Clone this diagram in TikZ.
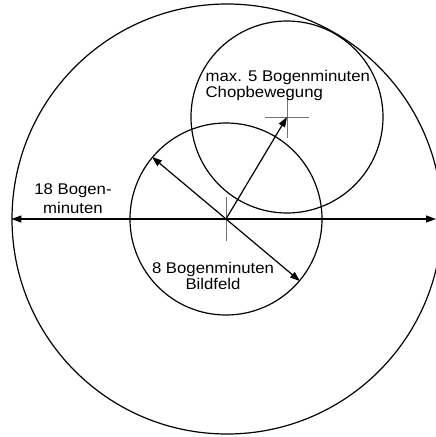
\documentclass[tikz,border=0pt]{standalone}
\usepackage{fontspec}
\setmainfont{Liberation Sans}
\usetikzlibrary{arrows.meta, positioning}

\begin{document}
\begin{tikzpicture}[x=1pt, y=-1pt, line width=1.2pt,
        >={Triangle[length=10pt, width=7pt]},
        ring/.style={circle, draw, inner sep=0pt, minimum size=#1},
        cross/.style={draw=black!55, line width=1pt},
        lbl/.style={inner sep=0pt, xscale=1.08, font=\fontsize{15.5}{14}\selectfont}]
        \useasboundingbox (0,0) rectangle (436,437);

        \node[ring=430] (sky)   at (227,219) {};
        \node[ring=192] (field) at (226,219) {};
        \node[ring=192] (chop)  at (287,117) {};
        \coordinate (east) at (436,219);

        % Fadenkreuze
        \draw[cross] ([xshift=-22pt]field.center) -- ([xshift=22pt]field.center)
                     ([yshift=-22pt]field.center) -- ([yshift=22pt]field.center);
        \draw[cross] ([xshift=-22pt]chop.center) -- ([xshift=22pt]chop.center)
                     ([yshift=-21pt]chop.center) -- ([yshift=21pt]chop.center);

        \draw[<->] (sky.west) -- (east);
        \draw[<->] (field.140) -- (field.-40);
        \draw[->] (field.center) -- (chop.center);

        \node[lbl, anchor=north west, align=left] (chopnote) at (205,70)
            {max. 5 Bogenminuten\\Chopbewegung};
        \node[lbl, anchor=north, align=center] (fieldnote) at (213,262)
            {8 Bogenminuten\\Bildfeld};
        \node[lbl, anchor=north, align=center, font=\fontsize{15.5}{19}\selectfont] (skynote) at (73,183)
            {18 Bogen-\\minuten};
\end{tikzpicture}
\end{document}
